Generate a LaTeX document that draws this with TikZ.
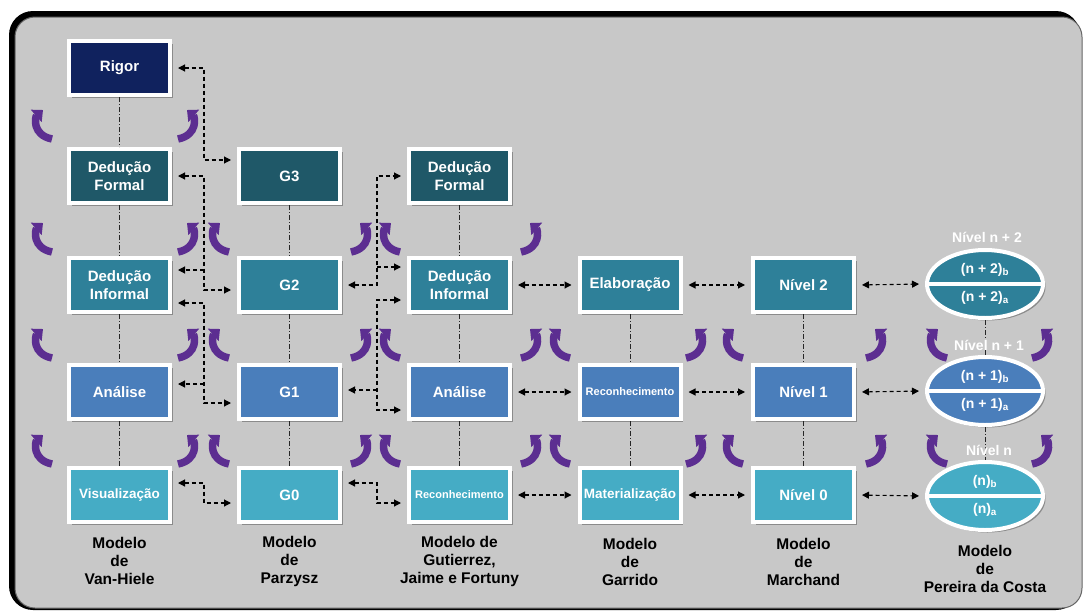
\documentclass[tikz,border=0pt]{standalone}
\usepackage{fontspec}
\setmainfont{Liberation Sans}
\usetikzlibrary{arrows.meta,shapes.geometric,shadows}
\definecolor{bgg}{RGB}{200,200,200}
\definecolor{cRig}{RGB}{16,34,94}
\definecolor{cDF}{RGB}{31,88,104}
\definecolor{cDI}{RGB}{46,128,153}
\definecolor{cAn}{RGB}{74,126,187}
\definecolor{cVi}{RGB}{69,172,197}
\definecolor{apurp}{RGB}{92,46,145}
\tikzset{
  box/.style={draw=white, line width=4pt, minimum width=101pt, minimum height=54pt,
    inner sep=0pt, align=center, text=white, font=\fontsize{15}{18}\selectfont\bfseries,
    drop shadow={shadow xshift=2.5pt, shadow yshift=-2.5pt, fill=black, opacity=0.3}},
  smalltxt/.style={font=\fontsize{11}{13}\selectfont\bfseries},
  midtxt/.style={font=\fontsize{13.5}{16}\selectfont\bfseries},
  ell/.style={ellipse, draw=white, line width=4pt, minimum width=116pt, minimum height=68pt,
    inner sep=0pt, drop shadow={shadow xshift=2.5pt, shadow yshift=-2.5pt, fill=black, opacity=0.3}},
  elltxt/.style={text=white, font=\fontsize{14}{16}\selectfont\bfseries},
  lvl/.style={text=white, font=\fontsize{14}{16}\selectfont\bfseries},
  model/.style={align=center, text=black, font=\fontsize{15.5}{18}\selectfont\bfseries},
  vlink/.style={line width=0.9pt, black!85, dash pattern=on 5pt off 2pt on 1pt off 2pt},
  conn/.style={line width=1.1pt, dash pattern=on 4pt off 3pt,
    {Triangle[length=7pt,width=7pt]}-{Triangle[length=7pt,width=7pt]},
    shorten <=6pt, shorten >=6pt},
  connr/.style={line width=1.1pt, dash pattern=on 4pt off 3pt,
    -{Triangle[length=7pt,width=7pt]}, shorten >=6pt},
  larr/.pic={\draw[apurp, line width=7.5pt, -{Triangle[length=9pt,width=16pt]}]
    (6,19) .. controls (-14,15) and (-11,-3) .. (-3,-10);},
  rarr/.pic={\draw[apurp, line width=7.5pt, -{Triangle[length=9pt,width=16pt]}]
    (-6,19) .. controls (14,15) and (11,-3) .. (3,-10);}
}
\begin{document}
\begin{tikzpicture}[x=1pt,y=-1pt]
\useasboundingbox (0,0) rectangle (1087,613);
\fill[white] (0,0) rectangle (1087,613);
% frame
\fill[black, rounded corners=24pt] (9,11) rectangle (1080,610);
\filldraw[fill=bgg, draw=black!60, line width=1pt, rounded corners=20pt] (15,17) rectangle (1082,608);

% Van-Hiele
\node[box, fill=cRig] (v4) at (119.5,68) {Rigor};
\node[box, fill=cDF] (v3) at (119.5,176) {Dedução\\Formal};
\node[box, fill=cDI] (v2) at (119.5,285) {Dedução\\Informal};
\node[box, fill=cAn] (v1) at (119.5,392) {Análise};
\node[box, fill=cVi, midtxt] (v0) at (119.5,495) {Visualização};
% Parzysz
\node[box, fill=cDF] (p3) at (289.5,176) {G3};
\node[box, fill=cDI] (p2) at (289.5,285) {G2};
\node[box, fill=cAn] (p1) at (289.5,392) {G1};
\node[box, fill=cVi] (p0) at (289.5,495) {G0};
% Gutierrez
\node[box, fill=cDF] (g3) at (459.5,176) {Dedução\\Formal};
\node[box, fill=cDI] (g2) at (459.5,285) {Dedução\\Informal};
\node[box, fill=cAn] (g1) at (459.5,392) {Análise};
\node[box, fill=cVi, smalltxt] (g0) at (459.5,495) {Reconhecimento};
% Garrido
\node[box, fill=cDI] (r2) at (630,285) {Elaboração};
\node[box, fill=cAn, smalltxt] (r1) at (630,392) {Reconhecimento};
\node[box, fill=cVi, midtxt] (r0) at (630,495) {Materialização};
% Marchand
\node[box, fill=cDI] (m2) at (803.5,285) {Nível 2};
\node[box, fill=cAn] (m1) at (803.5,392) {Nível 1};
\node[box, fill=cVi] (m0) at (803.5,495) {Nível 0};
% Pereira da Costa
\node[ell, fill=cDI] (c2) at (985,284) {};
\node[ell, fill=cAn] (c1) at (985,391) {};
\node[ell, fill=cVi] (c0) at (985,496) {};
\foreach \e in {c2,c1,c0}{\draw[white, line width=3.5pt] (\e.west) -- (\e.east);}

% vertical dash-dot links
\draw[vlink] (v4.south) -- (v3.north);
\draw[vlink] (v3.south) -- (v2.north);
\draw[vlink] (v2.south) -- (v1.north);
\draw[vlink] (v1.south) -- (v0.north);
\draw[vlink] (p3.south) -- (p2.north);
\draw[vlink] (p2.south) -- (p1.north);
\draw[vlink] (p1.south) -- (p0.north);
\draw[vlink] (g3.south) -- (g2.north);
\draw[vlink] (g2.south) -- (g1.north);
\draw[vlink] (g1.south) -- (g0.north);
\draw[vlink] (r2.south) -- (r1.north);
\draw[vlink] (r1.south) -- (r0.north);
\draw[vlink] (m2.south) -- (m1.north);
\draw[vlink] (m1.south) -- (m0.north);
\draw[vlink] (c2.south) -- (c1.north);
\draw[vlink] (c1.south) -- (c0.north);

% ellipse texts
\node[elltxt] (c2b) at (985,270) {(n + 2)\textsubscript{b}};
\node[elltxt] (c2a) at (985,298) {(n + 2)\textsubscript{a}};
\node[elltxt] (c1b) at (985,377) {(n + 1)\textsubscript{b}};
\node[elltxt] (c1a) at (985,405) {(n + 1)\textsubscript{a}};
\node[elltxt] (c0b) at (985,482) {(n)\textsubscript{b}};
\node[elltxt] (c0a) at (985,510) {(n)\textsubscript{a}};
\node[lvl] (l2) at (987,237) {Nível n + 2};
\node[lvl] (l1) at (989,345) {Nível n + 1};
\node[lvl] (l0) at (989,450) {Nível n};

% bus coordinates
\coordinate (bx1) at (204,0);
\coordinate (bx2) at (377,0);

% Van-Hiele <-> Parzysz
\draw[conn] (v4.east) -- (v4.east -| bx1) |- ([yshift=16pt]p3.west);
\draw[conn] (v3.east) -- (v3.east -| bx1) |- ([yshift=-5pt]p2.west);
\coordinate (v2u) at ([yshift=15pt]v2.east);
\draw[connr] (v2u -| bx1) -- (v2u);
\coordinate (v2d) at ([yshift=-18pt]v2.east);
\draw[conn] (v2d) -- (v2d -| bx1) |- ([yshift=-11pt]p1.west);
\coordinate (v1u) at ([yshift=8pt]v1.east);
\draw[connr] (v1u -| bx1) -- (v1u);
\coordinate (v0u) at ([yshift=12pt]v0.east);
\draw[conn] (v0u) -- (v0u -| bx1) |- ([yshift=-8pt]p0.west);

% Parzysz <-> Gutierrez
\draw[conn] (p2.east) -- (p2.east -| bx2) |- (g3.west);
\coordinate (g2u) at ([yshift=18pt]g2.west);
\draw[connr] (g2u -| bx2) -- (g2u);
\coordinate (g2d) at ([yshift=-15pt]g2.west);
\draw[conn] (g2d) -- (g2d -| bx2) |- ([yshift=-18pt]g1.west);
\coordinate (p1e) at ([yshift=2pt]p1.east);
\draw[connr] (p1e -| bx2) -- (p1e);
\coordinate (p0u) at ([yshift=12pt]p0.east);
\draw[conn] (p0u) -- (p0u -| bx2) |- ([yshift=-8pt]g0.west);

% horizontal links
\draw[conn] (g2.east) -- (r2.west);
\draw[conn] (g1.east) -- (r1.west);
\draw[conn] (g0.east) -- (r0.west);
\draw[conn] (r2.east) -- (m2.west);
\draw[conn] (r1.east) -- (m1.west);
\draw[conn] (r0.east) -- (m0.west);
\draw[conn] (m2.east) -- (c2.west);
\draw[conn] (m1.east) -- (c1.west);
\draw[conn] (m0.east) -- (c0.west);

% curved purple arrows
\foreach \y in {120,233,339,445}{\pic at (46,\y) {larr}; \pic at (184,\y) {rarr};}
\foreach \y in {233,339,445}{\pic at (223,\y) {larr}; \pic at (357,\y) {rarr};
  \pic at (394,\y) {larr}; \pic at (527,\y) {rarr};}
\foreach \y in {339,445}{\pic at (564,\y) {larr}; \pic at (692,\y) {rarr};
  \pic at (737,\y) {larr}; \pic at (872,\y) {rarr};
  \pic at (941,\y) {larr}; \pic at (1038,\y) {rarr};}

% model labels
\node[model] (t1) at (119.5,561) {Modelo\\de\\Van-Hiele};
\node[model] (t2) at (289.5,561) {Modelo\\de\\Parzysz};
\node[model] (t3) at (459.5,561) {Modelo de\\Gutierrez,\\Jaime e Fortuny};
\node[model] (t4) at (630,562) {Modelo\\de\\Garrido};
\node[model] (t5) at (803.5,562) {Modelo\\de\\Marchand};
\node[model] (t6) at (985,569) {Modelo\\de\\Pereira da Costa};
\end{tikzpicture}
\end{document}
